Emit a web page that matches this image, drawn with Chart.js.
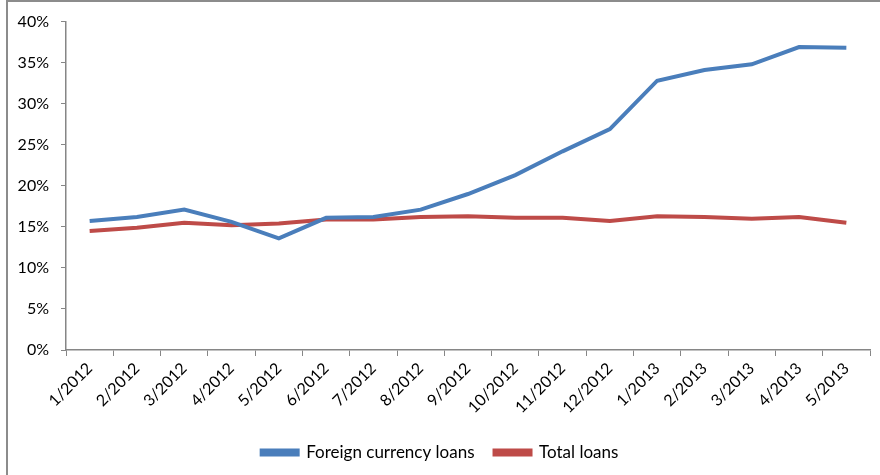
<!DOCTYPE html>
<html>
<head>
<meta charset="utf-8">
<script src="https://cdn.jsdelivr.net/npm/chart.js@4/dist/chart.umd.min.js"></script>
<style>
    html, body { margin: 0; padding: 0; background: #fff; }
    #wrap { width: 880px; height: 475px; }
</style>
</head>
<body>
<div id="wrap"><canvas id="chart1"></canvas></div>
<script>
// monthly growth rates, in percent
var months = ['1/2012', '2/2012', '3/2012', '4/2012', '5/2012', '6/2012', '7/2012', '8/2012', '9/2012',
    '10/2012', '11/2012', '12/2012', '1/2013', '2/2013', '3/2013', '4/2013', '5/2013'];
var foreignLoans = [15.7, 16.2, 17.1, 15.6, 13.6, 16.1, 16.2, 17.1, 19.0, 21.3, 24.2, 26.9, 32.8, 34.1, 34.8, 36.9, 36.8];
var totalLoans = [14.5, 14.9, 15.5, 15.2, 15.4, 15.9, 15.9, 16.2, 16.3, 16.1, 16.1, 15.7, 16.3, 16.2, 16.0, 16.2, 15.5];

var axisGray = '#868686';
var fontFamily = 'Lato, "Open Sans", sans-serif';

// frame around the chart (left and top edges show)
var framePlugin = {
    id: 'frame',
    beforeDraw: function (chart) {
        var ctx = chart.ctx;
        ctx.save();
        ctx.fillStyle = '#fff';
        ctx.fillRect(0, 0, chart.width, chart.height);
        ctx.strokeStyle = '#8c8c8c';
        ctx.lineWidth = 2;
        ctx.beginPath();
        ctx.moveTo(7, chart.height);
        ctx.lineTo(7, 1);
        ctx.lineTo(chart.width, 1);
        ctx.stroke();
        ctx.restore();
    }
};

const data = {
    labels: months,
    datasets: [{
        label: 'Foreign currency loans',
        data: foreignLoans,
        borderColor: '#4a7ebb',
        backgroundColor: '#4a7ebb',
        borderWidth: 4,
        pointRadius: 0,
        tension: 0,
        fill: false
    }, {
        label: 'Total loans',
        data: totalLoans,
        borderColor: '#be4b48',
        backgroundColor: '#be4b48',
        borderWidth: 4,
        pointRadius: 0,
        tension: 0,
        fill: false
    }]
};

const config = {
    type: 'line',
    data: data,
    plugins: [framePlugin],
    options: {
        responsive: true,
        maintainAspectRatio: false,
        animation: false,
        layout: {
            padding: { left: 10, right: 10, top: 12, bottom: 4 }
        },
        plugins: {
            legend: {
                position: 'bottom',
                labels: {
                    boxWidth: 36,
                    boxHeight: 4,
                    padding: 20,
                    color: '#000',
                    font: { family: fontFamily, size: 17 }
                }
            },
            tooltip: { enabled: false }
        },
        scales: {
            x: {
                offset: true,
                grid: {
                    offset: true,
                    drawOnChartArea: false,
                    color: axisGray,
                    tickLength: 6
                },
                border: { color: axisGray, width: 1.5 },
                ticks: {
                    minRotation: 45,
                    maxRotation: 45,
                    autoSkip: false,
                    color: '#000',
                    font: { family: fontFamily, size: 16 }
                },
                afterFit: function (scale) {
                    scale.height = 74;
                }
            },
            y: {
                min: 0,
                max: 40,
                ticks: {
                    stepSize: 5,
                    padding: 12,
                    color: '#000',
                    font: { family: fontFamily, size: 16 },
                    callback: function (value) {
                        return value + '%';
                    }
                },
                grid: {
                    drawOnChartArea: false,
                    color: axisGray,
                    tickLength: 5
                },
                border: { color: axisGray, width: 1.5 },
                afterFit: function (scale) {
                    scale.width = 56;
                }
            }
        }
    }
};

var chart1 = new Chart(document.getElementById('chart1'), config);
</script>
</body>
</html>
